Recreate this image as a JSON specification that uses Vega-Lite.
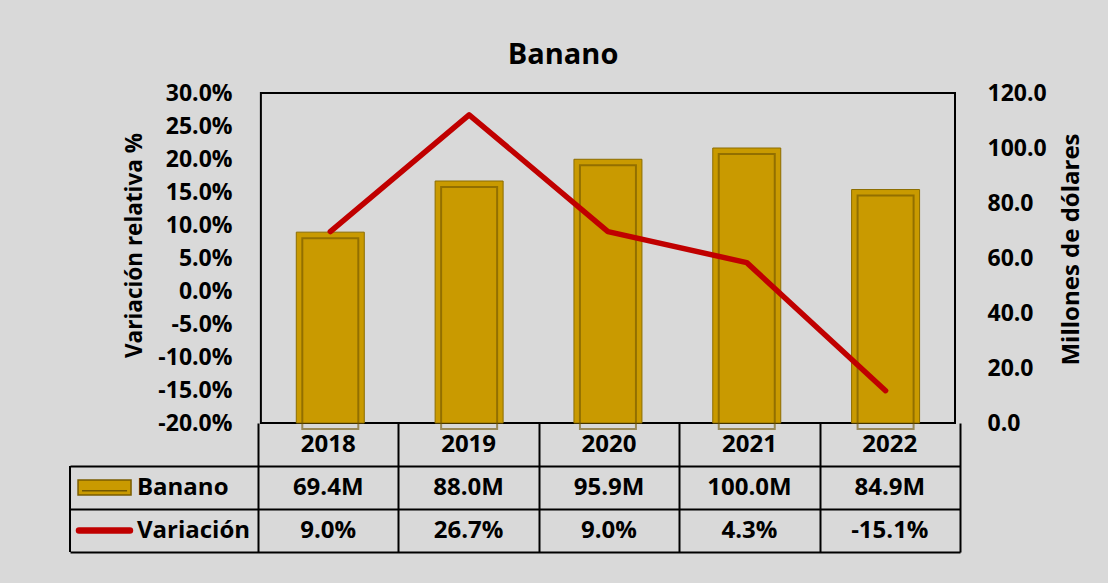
{
  "$schema": "https://vega.github.io/schema/vega-lite/v6.json",
  "background": "#d9d9d9",
  "padding": {"left": 69, "top": 41, "right": 24, "bottom": 32},
  "title": {"text": "Banano", "fontSize": 29, "font": "Open Sans", "fontWeight": "bold", "color": "black", "anchor": "middle", "offset": 12, "dx": -13},
  "datasets": {
    "ventas": [
      {"year": 2018, "banano": 69.4, "variacion": 9.0},
      {"year": 2019, "banano": 88.0, "variacion": 26.7},
      {"year": 2020, "banano": 95.9, "variacion": 9.0},
      {"year": 2021, "banano": 100.0, "variacion": 4.3},
      {"year": 2022, "banano": 84.9, "variacion": -15.1}
    ]
  },
  "bounds": "flush",
  "spacing": 0,
  "config": {
    "view": {"stroke": null},
    "font": "Open Sans",
    "axis": {"labelFont": "Open Sans", "labelFontWeight": "bold", "labelColor": "black", "titleFont": "Open Sans", "titleFontWeight": "bold", "titleColor": "black", "grid": false, "ticks": false, "tickSize": 0, "domain": false}
  },
  "vconcat": [
    {
      "width": 890,
      "height": 330,
      "layer": [
        {
          "data": {"values": [{"borde": "plot"}]},
          "mark": {"type": "rect", "fill": "transparent", "stroke": "black", "strokeWidth": 2},
          "encoding": {
            "x": {"datum": 2017.5, "type": "quantitative", "scale": {"domain": [2016.161, 2022.5], "nice": false, "zero": false}, "axis": null},
            "x2": {"datum": 2022.5},
            "y": {"value": 0},
            "y2": {"value": "height"}
          }
        },
        {
          "data": {"name": "ventas"},
          "encoding": {
            "x": {"field": "year", "type": "quantitative", "axis": null},
            "y": {"field": "banano", "type": "quantitative", "scale": {"domain": [0, 120], "nice": false},
              "axis": {"orient": "right", "title": "Millones de dólares", "values": [0, 20, 40, 60, 80, 100, 120], "format": ".1f", "labelFontSize": 23, "titleFontSize": 24, "labelPadding": 27, "titleAngle": -90, "titleBaseline": "top", "titlePadding": 13, "titleY": 156}}
          },
          "layer": [
            {"mark": {"type": "bar", "size": 68, "fill": "#C99A00", "stroke": "#8C6D00", "strokeWidth": 1}},
            {"mark": {"type": "bar", "size": 56, "fill": "transparent", "stroke": "#6E5300", "strokeWidth": 2, "strokeOpacity": 0.6, "yOffset": 6, "y2Offset": -5}}
          ]
        },
        {
          "data": {"name": "ventas"},
          "mark": {"type": "line", "color": "#C00000", "strokeWidth": 5.5, "strokeCap": "round", "strokeJoin": "round"},
          "encoding": {
            "x": {"field": "year", "type": "quantitative", "axis": null},
            "y": {"field": "variacion", "type": "quantitative", "scale": {"domain": [-20, 30], "nice": false, "zero": false},
              "axis": {"orient": "left", "offset": -188, "title": "Variación relativa %", "values": [-20, -15, -10, -5, 0, 5, 10, 15, 20, 25, 30], "labelExpr": "(datum.value < 0 ? '-' : '') + format(abs(datum.value), '.1f') + '%'", "labelFontSize": 23, "titleFontSize": 22.5, "labelPadding": 26, "titlePadding": 11, "titleY": 152}}
          }
        }
      ],
      "resolve": {"scale": {"y": "independent"}}
    },
    {
      "width": 890,
      "height": 129,
      "layer": [
        {
          "data": {"name": "ventas"},
          "mark": {"type": "text", "fontSize": 24, "fontWeight": "bold", "color": "black"},
          "encoding": {
            "x": {"field": "year", "type": "quantitative", "scale": {"domain": [2016.161, 2022.5], "nice": false, "zero": false},
              "axis": {"values": [2017.5, 2018.5, 2019.5, 2020.5, 2021.5, 2022.5], "grid": true, "gridColor": "black", "gridWidth": 2, "gridOpacity": 1, "labels": false, "ticks": false, "domain": true, "domainColor": "black", "domainWidth": 2, "title": null}},
            "y": {"datum": "Año", "type": "nominal", "scale": {"type": "band", "domain": ["Año", "Banano", "Variación"], "paddingInner": 0, "paddingOuter": 0},
              "axis": {"values": ["Banano", "Variación"], "grid": true, "bandPosition": 0, "gridColor": "black", "gridWidth": 2, "gridOpacity": 1, "labels": false, "ticks": false, "domain": false, "title": null}},
            "text": {"field": "year", "type": "nominal"}
          }
        },
        {
          "data": {"name": "ventas"},
          "mark": {"type": "text", "fontSize": 24, "fontWeight": "bold", "color": "black", "text": {"expr": "format(datum.banano, '.1f') + 'M'"}},
          "encoding": {"x": {"field": "year", "type": "quantitative"}, "y": {"datum": "Banano", "type": "nominal"}}
        },
        {
          "data": {"name": "ventas"},
          "mark": {"type": "text", "fontSize": 24, "fontWeight": "bold", "color": "black", "text": {"expr": "(datum.variacion < 0 ? '-' : '') + format(abs(datum.variacion), '.1f') + '%'"}},
          "encoding": {"x": {"field": "year", "type": "quantitative"}, "y": {"datum": "Variación", "type": "nominal"}}
        },
        {
          "data": {"values": [{"borde": "izquierdo"}]},
          "mark": {"type": "rule", "color": "black", "strokeWidth": 2},
          "encoding": {"x": {"datum": 2016.161, "type": "quantitative"}, "y": {"datum": "Banano", "type": "nominal", "bandPosition": 0}, "y2": {"value": "height"}}
        },
        {
          "data": {"values": [{"serie": "Banano"}, {"serie": "Variación"}]},
          "mark": {"type": "text", "fontSize": 24, "fontWeight": "bold", "color": "black", "align": "left"},
          "encoding": {"x": {"datum": 2016.638, "type": "quantitative"}, "y": {"field": "serie", "type": "nominal"}, "text": {"field": "serie", "type": "nominal"}}
        },
        {
          "data": {"values": [{"serie": "Banano"}]},
          "mark": {"type": "point", "shape": "M-1,-0.283H1V0.283H-1Z", "size": 2809, "filled": true, "fill": "#C99A00", "stroke": "#7A5C00", "strokeWidth": 1.5, "opacity": 1},
          "encoding": {"x": {"datum": 2016.407, "type": "quantitative"}, "y": {"field": "serie", "type": "nominal"}}
        },
        {
          "data": {"values": [{"serie": "Banano"}]},
          "mark": {"type": "point", "shape": "M-0.85,0.12H0.85", "size": 2809, "filled": false, "stroke": "#5E4700", "strokeWidth": 1.5, "opacity": 0.8},
          "encoding": {"x": {"datum": 2016.407, "type": "quantitative"}, "y": {"field": "serie", "type": "nominal"}}
        },
        {
          "data": {"values": [{"serie": "Variación"}]},
          "mark": {"type": "rule", "color": "#C00000", "strokeWidth": 6.5, "strokeCap": "round"},
          "encoding": {"x": {"datum": 2016.225, "type": "quantitative"}, "x2": {"datum": 2016.588}, "y": {"field": "serie", "type": "nominal"}}
        }
      ]
    }
  ]
}
